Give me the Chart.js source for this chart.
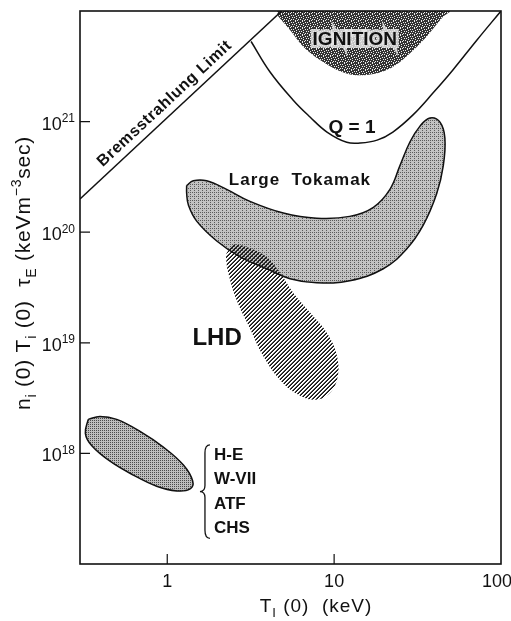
<!DOCTYPE html>
<html>
<head>
<meta charset="utf-8">
<title>LHD - Lawson diagram</title>
<script src="https://cdn.jsdelivr.net/npm/chart.js@4.4.0/dist/chart.umd.min.js"></script>
<style>
  html, body { margin: 0; padding: 0; background: #fff; }
  #wrap { width: 511px; height: 621px; position: relative; }
</style>
</head>
<body>
<div id="wrap"><canvas id="lawson-chart"></canvas></div>
<script>
// ---- data (Ti(0) in keV, ni(0)Ti(0)tauE in keV m^-3 s) ----
const bremsT = [0.3, 4.85];
const bremsNTT = [2.0e20, 1.0e22];

const q1T = [3.18, 4.13, 5.67, 7.17, 9.06, 11.9, 14.3, 18.1, 22.5, 29.7, 39.1, 51.5, 71.8, 100];
const q1NTT = [5.3e21, 2.81e21, 1.57e21, 1.10e21, 8.05e20, 6.5e20, 6.4e20, 6.8e20, 8.05e20, 1.15e21, 1.81e21, 2.93e21, 5.47e21, 1.0e22];

const ignT = [4.63, 5.44, 6.53, 8.23, 10.4, 13.0, 17.2, 22.6, 28.5, 35.8, 45.1, 49.4, 4.6];
const ignNTT = [8.9e21, 6.73e21, 4.76e21, 3.6e21, 2.93e21, 2.64e21, 2.69e21, 3.14e21, 4.15e21, 5.86e21, 8.9e21, 1.0e22, 1.0e22];

const tokT = [1.307, 1.432, 1.722, 2.27, 3.13, 4.96, 7.86, 12.4, 17.2, 21.6, 24.8, 28.5, 32.7, 37.5, 43.1, 46.1, 45.1, 41.2, 34.2, 27.2, 19.7, 12.4, 7.86, 5.44, 3.94, 2.73, 1.98, 1.50, 1.34, 1.307];
const tokNTT = [2.64e20, 2.92e20, 2.92e20, 2.44e20, 1.90e20, 1.49e20, 1.34e20, 1.39e20, 1.68e20, 2.44e20, 4.0e20, 6.57e20, 9.1e20, 1.08e21, 9.9e20, 7.1e20, 4.0e20, 2.24e20, 1.16e20, 7.06e19, 4.67e19, 3.64e19, 3.49e19, 3.8e19, 4.67e19, 5.98e19, 8.32e19, 1.26e20, 1.75e20, 2.24e20];

const lhdT = [2.27, 2.49, 2.99, 3.94, 4.74, 5.69, 7.17, 9.02, 10.4, 10.4, 9.02, 7.5, 5.97, 4.74, 3.76, 3.13, 2.61, 2.32, 2.25];
const lhdNTT = [6.5e19, 7.66e19, 7.35e19, 5.98e19, 4.3e19, 2.84e19, 1.88e19, 1.24e19, 7.6e18, 4.62e18, 3.32e18, 3.06e18, 3.47e18, 4.62e18, 7.6e18, 1.35e19, 2.41e19, 4.3e19, 5.98e19];

const heT = [0.336, 0.395, 0.498, 0.687, 0.947, 1.25, 1.42, 1.37, 1.14, 0.864, 0.626, 0.454, 0.352, 0.323];
const heNTT = [2.03e18, 2.16e18, 2.03e18, 1.58e18, 1.14e18, 7.84e17, 5.63e17, 4.77e17, 4.58e17, 5.05e17, 6.37e17, 8.5e17, 1.18e18, 1.52e18];

const xTickValues = [1, 10, 100];
const xTickLabels = ['1', '10', '100'];
const yTickValues = [1e18, 1e19, 1e20, 1e21];
const yTickExponents = ['18', '19', '20', '21'];
const deviceNames = ['H-E', 'W-VII', 'ATF', 'CHS'];

const FONT = '"Liberation Sans", Arial, sans-serif';

// ---- fill textures ----
function makePattern(size, paint) {
    const c = document.createElement('canvas');
    c.width = size; c.height = size;
    const g = c.getContext('2d');
    paint(g);
    return g.createPattern(c, 'repeat');
}

const stipple = makePattern(4, g => {
    g.fillStyle = '#c2c2c2'; g.fillRect(0, 0, 4, 4);
    g.fillStyle = '#5a5a5a';
    g.fillRect(0, 0, 1, 1); g.fillRect(2, 2, 1, 1); g.fillRect(2, 0, 1, 1);
});
const stippleDark = makePattern(4, g => {
    g.fillStyle = '#bdbdbd'; g.fillRect(0, 0, 4, 4);
    g.fillStyle = '#4a4a4a';
    g.fillRect(0, 0, 1, 1); g.fillRect(2, 2, 1, 1); g.fillRect(2, 0, 1, 1); g.fillRect(0, 2, 1, 1);
});
const hatch = makePattern(4, g => {
    for (let y = 0; y < 4; y++) {
        for (let x = 0; x < 4; x++) {
            if ((x + y) % 4 === 3) { g.fillStyle = '#111'; g.fillRect(x, y, 1, 1); }
            if ((x + y) % 4 === 2) { g.fillStyle = 'rgba(17,17,17,0.75)'; g.fillRect(x, y, 1, 1); }
        }
    }
});
// fixed speckle (no randomness): light flecks on a dark ground
const speckle = makePattern(7, g => {
    g.fillStyle = '#333'; g.fillRect(0, 0, 7, 7);
    g.fillStyle = '#eee';
    [[1, 0], [4, 1], [0, 3], [5, 3], [2, 4], [6, 5], [3, 6], [1, 6], [4, 5], [6, 1], [2, 2]].forEach(p => g.fillRect(p[0], p[1], 1, 1));
});

function toPoints(xs, ys, close) {
    const pts = xs.map((x, i) => ({ x: x, y: ys[i] }));
    if (close) pts.push({ x: pts[0].x, y: pts[0].y });
    return pts;
}

// ---- drawing helpers ----
function richText(ctx, pieces, x, y, size, align, weight) {
    const small = Math.round(size * 0.68);
    const w = weight || '';
    const widths = pieces.map(p => {
        ctx.font = w + ' ' + (p[1] ? small : size) + 'px ' + FONT;
        return ctx.measureText(p[0]).width;
    });
    const total = widths.reduce((a, b) => a + b, 0);
    let cx = align === 'center' ? x - total / 2 : (align === 'right' ? x - total : x);
    pieces.forEach((p, i) => {
        ctx.font = w + ' ' + (p[1] ? small : size) + 'px ' + FONT;
        const dy = p[1] === -1 ? size * 0.28 : (p[1] === 1 ? -size * 0.42 : 0);
        ctx.fillText(p[0], cx, y + dy);
        cx += widths[i];
    });
}

const decorations = {
    id: 'decorations',
    afterDatasetsDraw(chart) {
        const { ctx, scales: { x, y } } = chart;
        ctx.save();
        ctx.fillStyle = '#111';
        ctx.textBaseline = 'middle';
        ctx.textAlign = 'center';

        // Bremsstrahlung label, parallel to its line and just above it
        const bx0 = x.getPixelForValue(bremsT[0]), by0 = y.getPixelForValue(bremsNTT[0]);
        const bx1 = x.getPixelForValue(bremsT[1]), by1 = y.getPixelForValue(bremsNTT[1]);
        const ang = Math.atan2(by1 - by0, bx1 - bx0);
        const mx = x.getPixelForValue(1.08);
        const my = by0 + (mx - bx0) * (by1 - by0) / (bx1 - bx0);
        ctx.save();
        ctx.translate(mx, my);
        ctx.rotate(ang);
        ctx.font = 'bold 16px ' + FONT;
        ctx.letterSpacing = '0.6px';
        ctx.fillText('Bremsstrahlung Limit', 0, -12);
        ctx.restore();

        // IGNITION with a light halo
        ctx.font = 'bold 19px ' + FONT;
        const ix = x.getPixelForValue(13.3), iy = y.getPixelForValue(5.47e21);
        ctx.lineWidth = 6; ctx.strokeStyle = 'rgba(230,230,230,0.85)';
        ctx.strokeText('IGNITION', ix, iy);
        ctx.fillText('IGNITION', ix, iy);

        ctx.font = 'bold 19px ' + FONT;
        ctx.fillText('Q = 1', x.getPixelForValue(12.8), y.getPixelForValue(8.75e20));

        ctx.font = 'bold 17px ' + FONT;
        ctx.letterSpacing = '1px';
        ctx.fillText('Large  Tokamak', x.getPixelForValue(6.24), y.getPixelForValue(2.97e20));
        ctx.letterSpacing = '0px';

        ctx.font = 'bold 24px ' + FONT;
        ctx.fillText('LHD', x.getPixelForValue(1.99), y.getPixelForValue(1.10e19));

        // device list with a brace
        ctx.font = 'bold 17px ' + FONT;
        ctx.textAlign = 'left';
        const dx = x.getPixelForValue(1.905), dy = y.getPixelForValue(9.7e17);
        deviceNames.forEach((n, i) => ctx.fillText(n, dx, dy + i * 24.5));
        const top = dy - 10, bot = dy + 3 * 24.5 + 10, mid = (top + bot) / 2, bx = dx - 6;
        ctx.beginPath();
        ctx.lineWidth = 1.3; ctx.strokeStyle = '#111';
        ctx.moveTo(bx + 2, top);
        ctx.quadraticCurveTo(bx - 3, top, bx - 3, top + 8);
        ctx.lineTo(bx - 3, mid - 6);
        ctx.quadraticCurveTo(bx - 3, mid, bx - 8, mid);
        ctx.quadraticCurveTo(bx - 3, mid, bx - 3, mid + 6);
        ctx.lineTo(bx - 3, bot - 8);
        ctx.quadraticCurveTo(bx - 3, bot, bx + 2, bot);
        ctx.stroke();
        ctx.restore();
    },
    afterDraw(chart) {
        const { ctx, chartArea: a, scales: { x, y } } = chart;
        ctx.save();
        ctx.strokeStyle = '#111';
        ctx.lineWidth = 1.6;
        ctx.strokeRect(a.left, a.top, a.right - a.left, a.bottom - a.top);

        // inward tick marks
        ctx.lineWidth = 1.2;
        ctx.beginPath();
        x.ticks.forEach(t => {
            const px = x.getPixelForValue(t.value);
            if (px > a.left + 2 && px < a.right - 2) { ctx.moveTo(px, a.bottom); ctx.lineTo(px, a.bottom - 10); }
        });
        y.ticks.forEach(t => {
            const py = y.getPixelForValue(t.value);
            ctx.moveTo(a.left, py); ctx.lineTo(a.left + 10, py);
        });
        ctx.stroke();

        ctx.fillStyle = '#111';
        // x tick labels
        ctx.textAlign = 'center';
        ctx.textBaseline = 'middle';
        ctx.font = '18px ' + FONT;
        x.ticks.forEach((t, i) => {
            let px = x.getPixelForValue(t.value);
            if (i === x.ticks.length - 1) px -= 4;
            ctx.fillText(xTickLabels[i], px, a.bottom + 18);
        });

        // y tick labels 10^n
        ctx.textBaseline = 'alphabetic';
        ctx.textAlign = 'left';
        y.ticks.forEach((t, i) => {
            const py = y.getPixelForValue(t.value);
            richText(ctx, [['10', 0], [yTickExponents[i], 1]], a.left - 5, py + 8, 18, 'right');
        });

        // axis titles
        ctx.letterSpacing = '1px';
        richText(ctx, [['T', 0], ['I', -1], [' (0)  (keV)', 0]], a.left + 236, a.bottom + 48, 19, 'center');
        ctx.save();
        ctx.translate(30, a.top + 262);
        ctx.rotate(-Math.PI / 2);
        ctx.letterSpacing = '0.8px';
        richText(ctx, [['n', 0], ['i', -1], [' (0) T', 0], ['i', -1], [' (0)  \u03c4', 0], ['E', -1], [' (keVm', 0], ['\u22123', 1], ['sec)', 0]], 0, 0, 21, 'center');
        ctx.restore();
        ctx.restore();
    }
};

const line = (pts, extra) => Object.assign({
    data: pts, showLine: true, pointRadius: 0, borderColor: '#111', borderWidth: 1.5, fill: false
}, extra);

new Chart(document.getElementById('lawson-chart'), {
    type: 'scatter',
    data: {
        datasets: [
            line(toPoints(bremsT, bremsNTT), { label: 'Bremsstrahlung Limit', order: 1 }),
            line(toPoints(q1T, q1NTT), { label: 'Q = 1', tension: 0.4, order: 2 }),
            line(toPoints(ignT, ignNTT, true), { label: 'IGNITION', tension: 0.3, borderWidth: 0, fill: 'shape', backgroundColor: speckle, order: 6 }),
            line(toPoints(lhdT, lhdNTT, true), { label: 'LHD', tension: 0.4, borderWidth: 0, fill: 'shape', backgroundColor: hatch, order: 3 }),
            line(toPoints(tokT, tokNTT, true), { label: 'Large Tokamak', tension: 0.4, fill: 'shape', backgroundColor: stipple, order: 4 }),
            line(toPoints(heT, heNTT, true), { label: 'H-E / W-VII / ATF / CHS', tension: 0.4, fill: 'shape', backgroundColor: stippleDark, order: 5 })
        ]
    },
    options: {
        responsive: true,
        maintainAspectRatio: false,
        animation: false,
        layout: { padding: { top: 11, right: 10, left: 0, bottom: 0 } },
        plugins: { legend: { display: false }, tooltip: { enabled: false } },
        scales: {
            x: {
                type: 'logarithmic', min: 0.3, max: 100,
                grid: { display: false }, border: { display: false },
                ticks: { display: false },
                afterBuildTicks: s => { s.ticks = xTickValues.map(v => ({ value: v })); },
                afterFit: s => { s.height = 57; }
            },
            y: {
                type: 'logarithmic', min: 1e17, max: 1e22,
                grid: { display: false }, border: { display: false },
                ticks: { display: false },
                afterBuildTicks: s => { s.ticks = yTickValues.map(v => ({ value: v })); },
                afterFit: s => { s.width = 80; }
            }
        }
    },
    plugins: [decorations]
});
</script>
</body>
</html>
